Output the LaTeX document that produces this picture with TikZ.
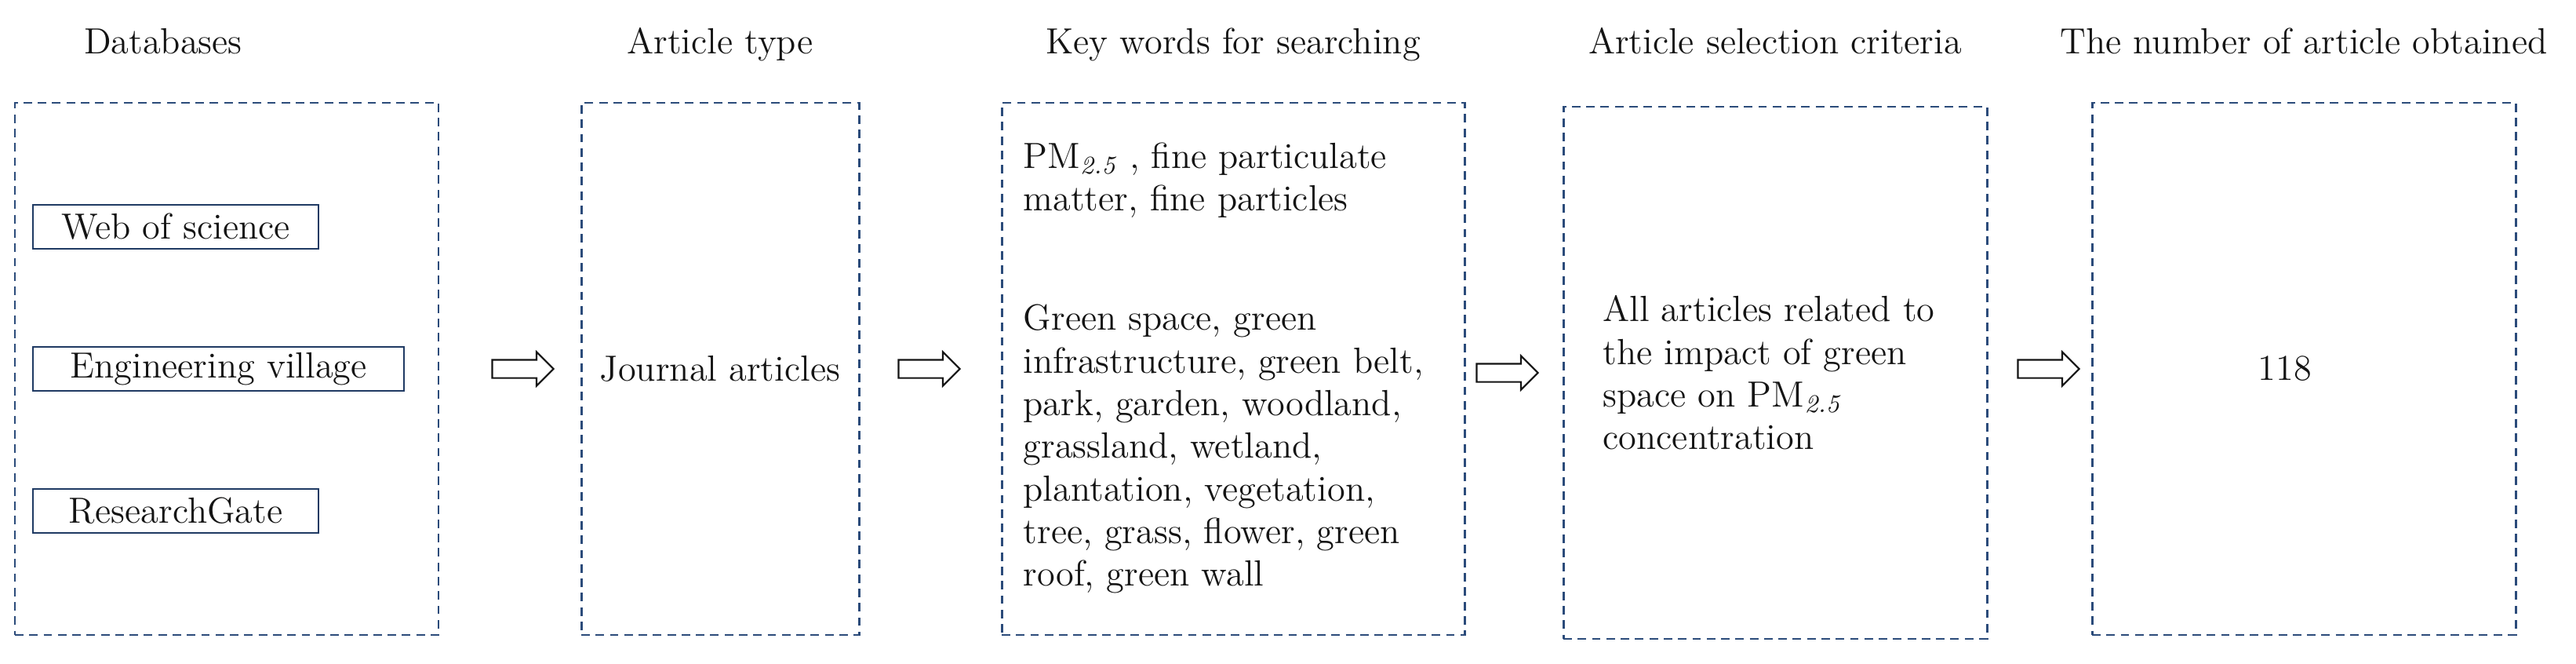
\documentclass[tikz,border=0pt]{standalone}
\usepackage{fontspec}
\usepackage{tikz}
\usetikzlibrary{positioning,shapes.arrows,calc}
\definecolor{ink}   {HTML}{141414}
\definecolor{frame} {HTML}{2B4B7A}
\definecolor{navy}  {HTML}{1F3A63}
\tikzset{
  every node/.style={font=\fontsize{13.2pt}{15.45pt}\selectfont, text=ink},
  % --- nodes
  stage/.style = {draw=frame, line width=0.85pt, dash pattern=on 3.1pt off 2.1pt,
                  minimum height=6.78cm, inner sep=0pt, outer sep=0pt},
  src/.style   = {draw=navy, line width=0.7pt, minimum height=0.56cm, inner sep=0pt,
                  anchor=west},
  ttl/.style   = {anchor=base, inner sep=0pt},
  body/.style  = {align=left, inner sep=0pt},
  % --- arrows
  blk/.style   = {single arrow, draw=ink, line width=0.6pt, fill=white,
                  minimum height=0.78cm, text height=0.105cm, text depth=0.105cm,
                  text width=0pt, single arrow head extend=0.1cm, inner sep=0pt},
}
\newcommand{\pmtf}{PM\textsubscript{\textit{2.5}}}

\begin{document}
\begin{tikzpicture}
  \useasboundingbox (0,0) rectangle (32.84,-8.46);

  \node[stage, minimum width=5.40cm] (db) at (2.89,-4.70) {};
  \node[stage, minimum width=3.54cm, right=1.82cm of db] (at) {Journal articles};
  \node[stage, minimum width=5.90cm, right=1.82cm of at] (kw) {};
  \node[stage, minimum width=5.40cm, right=1.26cm of kw, yshift=-0.05cm] (sc) {};
  \node[stage, minimum width=5.40cm, right=1.34cm of sc, yshift=0.05cm] (no) {};

  \node[ttl] (t1) at ([xshift=-8.1mm,yshift=6.2mm]db.north) {Databases};
  \node[ttl] (t2) at (at.north |- t1.base) {Article type};
  \node[ttl] (t3) at (kw.north |- t1.base) {Key words for searching};
  \node[ttl] (t4) at (sc.north |- t1.base) {Article selection criteria};
  \node[ttl] (t5) at (no.north |- t1.base) {The number of article obtained};

  \node[src, minimum width=3.64cm] (wos) at (0.41,-2.89) {Web of science};
  \node[src, minimum width=4.73cm] (ev)  at (0.41,-4.70) {Engineering village};
  \node[src, minimum width=3.64cm] (rg)  at (0.41,-6.51) {ResearchGate};

  \node[body, anchor=north west] (kwt) at (13.04,-1.81)
    {\pmtf{} , fine particulate\\matter, fine particles\\[0.98cm]
     Green space, green\\infrastructure, green belt,\\park, garden, woodland,\\
     grassland, wetland,\\plantation, vegetation,\\tree, grass, flower, green\\
     roof, green wall};
  \node[body, xshift=-0.08cm] (sct) at (sc)
    {All articles related to\\the impact of green\\space on \pmtf\\concentration};
  \node[xshift=-2.4mm] (cnt) at (no) {118};

  \node[blk, left=3.4mm of at] (a1) {};
  \node[blk, left=5.2mm of kw] (a2) {};
  \node[blk, left=3.1mm of sc] (a3) {};
  \node[blk, left=1.5mm of no] (a4) {};
\end{tikzpicture}
\end{document}
